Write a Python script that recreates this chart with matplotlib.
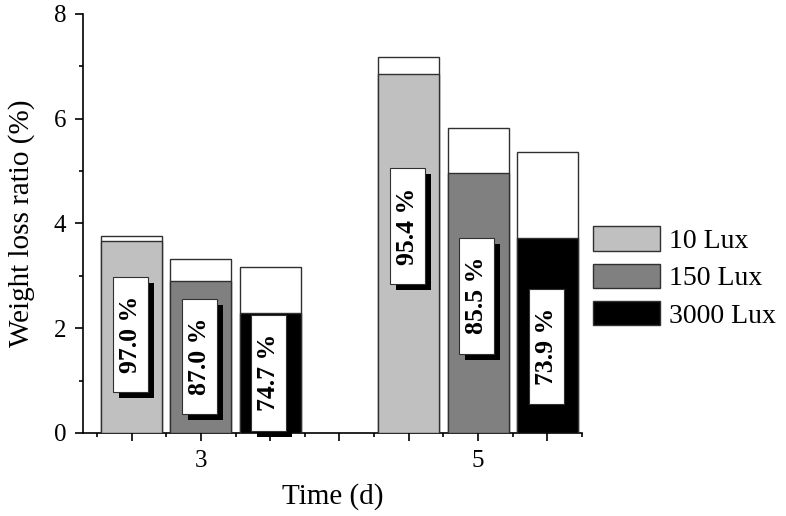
import numpy as np
import matplotlib
matplotlib.use("Agg")
import matplotlib.pyplot as plt
from matplotlib.patches import Rectangle

plt.rcParams['font.family'] = ['Liberation Serif', 'DejaVu Serif']

# data
days = ["3", "5"]
lux = ["10 Lux", "150 Lux", "3000 Lux"]
total = [[3.77, 3.33, 3.16],      # day 3
         [7.18, 5.83, 5.37]]      # day 5
inner = [[3.66, 2.90, 2.30],
         [6.85, 4.97, 3.72]]
ratio = [["97.0 %", "87.0 %", "74.7 %"],
         ["95.4 %", "85.5 %", "73.9 %"]]
label_y = [[1.88, 1.46, 1.15],
           [3.95, 2.62, 1.65]]

colors = ["#c0c0c0", "#808080", "#000000"]
group_start = [0, 4]
bw = 0.88
box_w, box_h = 0.505, 2.21
sh_dx, sh_dy = 0.087, 0.115

fig = plt.figure(figsize=(7.86, 5.16), dpi=100)
ax = fig.add_axes([0.1056, 0.1609, 0.635, 0.812])

for g in range(len(days)):
    for i in range(len(lux)):
        xc = group_start[g] + i
        # white top part = total, coloured part = inner
        ax.bar(xc, total[g][i], width=bw, color="white", edgecolor="#303030",
               linewidth=1.0, zorder=2)
        ax.bar(xc, inner[g][i], width=bw, color=colors[i], edgecolor="#303030",
               linewidth=1.0, zorder=3, label=lux[i] if g == 0 else None)
        bx = xc - 0.02 - box_w / 2
        by = label_y[g][i] - box_h / 2
        ax.add_patch(Rectangle((bx + sh_dx, by - sh_dy), box_w, box_h,
                               facecolor="black", edgecolor="none",
                               zorder=4, clip_on=False))
        ax.add_patch(Rectangle((bx, by), box_w, box_h, facecolor="white",
                               edgecolor="#303030", linewidth=0.8, zorder=5,
                               clip_on=False))
        ax.text(xc - 0.02, label_y[g][i], ratio[g][i], rotation=90,
                ha="center", va="center", fontsize=18.5, fontweight="bold",
                zorder=6)

ax.set_xlim(-0.7, 6.5)
ax.set_ylim(0, 8)
ax.set_yticks([0, 2, 4, 6, 8])
ax.set_yticks([1, 3, 5, 7], minor=True)
ax.set_xticks(np.arange(7))
ax.set_xticklabels(["", days[0], "", "", "", days[1], ""])
ax.set_xticks(np.arange(-0.5, 7, 1), minor=True)
ax.tick_params(axis="both", which="major", labelsize=18, length=6,
               width=1.2, direction="out", pad=6)
ax.tick_params(axis="y", which="minor", length=3, width=1.2, direction="out")
ax.tick_params(axis="x", which="minor", length=3, width=1.2, direction="out")

for s in ["top", "right"]:
    ax.spines[s].set_visible(False)
for s in ["left", "bottom"]:
    ax.spines[s].set_linewidth(1.2)

ax.set_ylabel("Weight loss ratio (%)", fontsize=21)
ax.set_xlabel("Time (d)", fontsize=21)
ax.yaxis.set_label_coords(-0.096, 0.5)
ax.xaxis.set_label_coords(0.5, -0.119)

leg = ax.legend(loc="upper left", bbox_to_anchor=(1.0, 0.52), frameon=False,
                fontsize=20, handlelength=2.4, handleheight=0.97,
                handletextpad=0.32, labelspacing=0.35, borderaxespad=0.0)

fig.savefig("out.png", dpi=100)
